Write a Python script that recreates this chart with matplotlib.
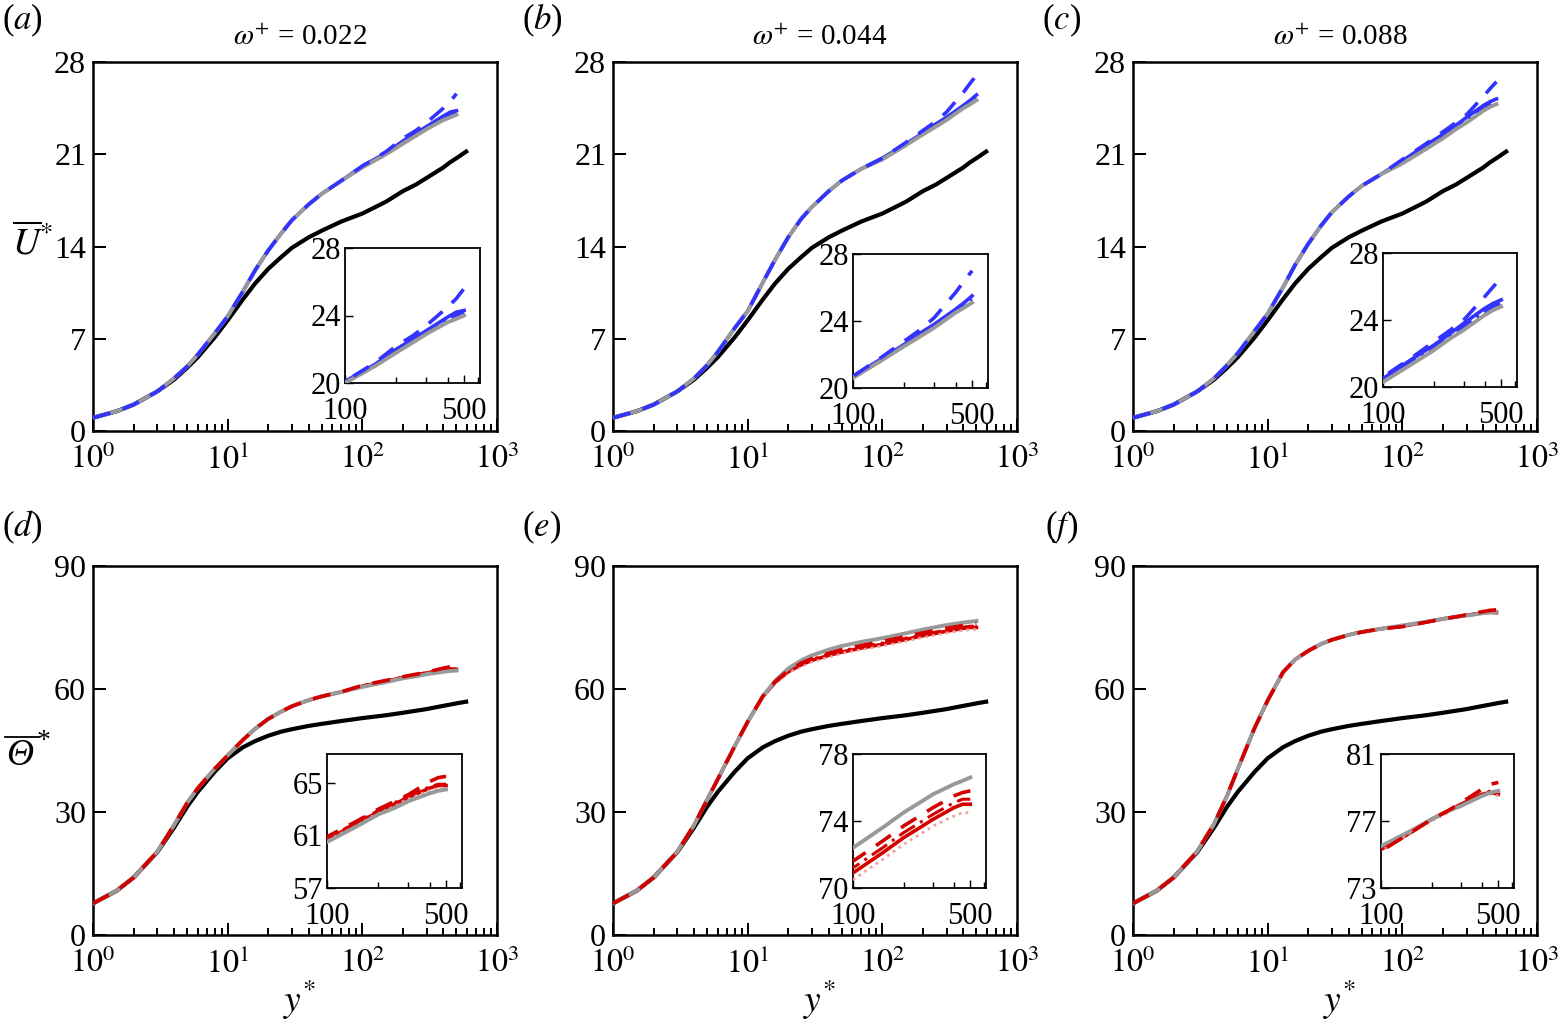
import numpy as np
import matplotlib
matplotlib.use("Agg")
import matplotlib.pyplot as plt
from matplotlib.ticker import NullFormatter
from matplotlib.lines import Line2D

plt.rcParams['font.family'] = ['Liberation Serif', 'DejaVu Serif']
plt.rcParams['mathtext.fontset'] = 'stix'

# --- data ---
y_plus = [1, 1.5, 2, 3, 4, 5, 6, 8, 10, 13, 16, 20, 25, 30, 40, 50, 70,
          100, 150, 200, 250, 300, 400, 450, 500]
y_base = y_plus + [590]

u_base = [1.0, 1.5, 2.0, 3.0, 3.9, 4.8, 5.6, 7.1, 8.4, 10.0, 11.2, 12.3, 13.2, 13.9, 14.7, 15.2, 15.9,
          16.5, 17.4, 18.2, 18.7, 19.2, 20.0, 20.4, 20.7, 21.2]

u_gray_a = [1.0, 1.5, 2.0, 3.0, 4.0, 4.9, 5.8, 7.4, 8.7, 10.6, 12.2, 13.7, 15.0, 16.0, 17.2, 18.0, 19.0,
            20.0, 21.0, 21.8, 22.4, 22.9, 23.6, 23.8, 24.0]
u_solid_a = [1.0, 1.5, 2.0, 3.0, 4.0, 4.9, 5.8, 7.4, 8.7, 10.6, 12.2, 13.7, 15.0, 16.0, 17.2, 18.0, 19.0,
             20.1, 21.1, 22.0, 22.6, 23.1, 23.9, 24.2, 24.3]
u_dash_a = [1.0, 1.5, 2.0, 3.0, 4.0, 4.9, 5.8, 7.4, 8.7, 10.6, 12.2, 13.7, 15.0, 16.0, 17.2, 18.0, 19.0,
            20.1, 21.2, 22.2, 22.8, 23.4, 24.5, 25.0, 25.6]
u_dashdot_a = [1.0, 1.5, 2.0, 3.0, 4.0, 4.9, 5.8, 7.4, 8.7, 10.6, 12.2, 13.7, 15.0, 16.0, 17.2, 18.0, 19.0,
               20.0, 21.1, 21.9, 22.5, 23.0, 23.8, 24.0, 24.2]

u_gray_b = [1.0, 1.5, 2.0, 3.0, 4.0, 5.0, 6.0, 7.8, 9.1, 11.3, 13.0, 14.7, 16.1, 17.0, 18.2, 19.0, 19.9,
            20.6, 21.7, 22.5, 23.1, 23.6, 24.5, 24.8, 25.1]
u_solid_b = [1.0, 1.5, 2.0, 3.0, 4.0, 5.0, 6.0, 7.8, 9.1, 11.3, 13.0, 14.7, 16.1, 17.0, 18.2, 19.0, 19.9,
             20.7, 21.8, 22.6, 23.3, 23.8, 24.7, 25.1, 25.5]
u_dash_b = [1.0, 1.5, 2.0, 3.0, 4.0, 5.0, 6.0, 7.8, 9.1, 11.3, 13.0, 14.7, 16.1, 17.0, 18.2, 19.0, 19.9,
            20.7, 21.9, 22.8, 23.5, 24.2, 25.7, 26.4, 27.0]
u_dashdot_b = [1.0, 1.5, 2.0, 3.0, 4.0, 5.0, 6.0, 7.8, 9.1, 11.3, 13.0, 14.7, 16.1, 17.0, 18.2, 19.0, 19.9,
               20.6, 21.7, 22.6, 23.2, 23.7, 24.6, 25.0, 25.3]

u_gray_c = [1.0, 1.5, 2.0, 3.0, 4.0, 5.0, 5.9, 7.6, 8.9, 10.9, 12.6, 14.2, 15.6, 16.6, 17.8, 18.6, 19.5,
            20.3, 21.4, 22.2, 22.9, 23.4, 24.3, 24.6, 24.8]
u_solid_c = [1.0, 1.5, 2.0, 3.0, 4.0, 5.0, 5.9, 7.6, 8.9, 10.9, 12.6, 14.2, 15.6, 16.6, 17.8, 18.6, 19.5,
             20.5, 21.7, 22.5, 23.2, 23.8, 24.7, 25.0, 25.2]
u_dash_c = [1.0, 1.5, 2.0, 3.0, 4.0, 5.0, 5.9, 7.6, 8.9, 10.9, 12.6, 14.2, 15.6, 16.6, 17.8, 18.6, 19.5,
            20.6, 21.8, 22.7, 23.4, 24.0, 25.4, 26.0, 26.5]
u_dashdot_c = [1.0, 1.5, 2.0, 3.0, 4.0, 5.0, 5.9, 7.6, 8.9, 10.9, 12.6, 14.2, 15.6, 16.6, 17.8, 18.6, 19.5,
               20.4, 21.5, 22.3, 23.0, 23.6, 24.5, 24.8, 25.0]

t_base = [7.7, 10.8, 14.0, 20.2, 26.2, 31.3, 34.9, 39.8, 43.1, 45.8, 47.3, 48.6, 49.6, 50.2, 51.0, 51.5, 52.2,
          52.9, 53.6, 54.2, 54.7, 55.1, 55.9, 56.2, 56.5, 56.9]

t_gray_d = [7.7, 10.8, 14.0, 20.3, 26.8, 32.2, 35.8, 40.5, 43.8, 47.6, 50.3, 52.7, 54.5, 55.8, 57.3, 58.2, 59.3,
            60.5, 61.7, 62.6, 63.1, 63.6, 64.2, 64.4, 64.5]
t_solid_d = [7.7, 10.8, 14.0, 20.3, 26.8, 32.2, 35.8, 40.5, 43.8, 47.6, 50.3, 52.7, 54.5, 55.8, 57.3, 58.2, 59.3,
             60.7, 61.9, 62.8, 63.4, 63.9, 64.6, 64.8, 64.8]
t_dash_d = [7.7, 10.8, 14.0, 20.3, 26.8, 32.2, 35.8, 40.5, 43.8, 47.6, 50.3, 52.7, 54.5, 55.8, 57.3, 58.2, 59.3,
            60.9, 62.1, 63.0, 63.6, 64.1, 65.1, 65.4, 65.5]
t_dashdot_d = [7.7, 10.8, 14.0, 20.3, 26.8, 32.2, 35.8, 40.5, 43.8, 47.6, 50.3, 52.7, 54.5, 55.8, 57.3, 58.2, 59.3,
               60.8, 62.0, 62.9, 63.5, 64.0, 64.7, 64.9, 64.9]
t_dot_d = [7.7, 10.8, 14.0, 20.3, 26.8, 32.2, 35.8, 40.5, 43.8, 47.6, 50.3, 52.7, 54.5, 55.8, 57.3, 58.2, 59.3,
           60.6, 61.8, 62.7, 63.2, 63.8, 64.4, 64.6, 64.6]

t_gray_e = [7.7, 10.8, 14.0, 20.3, 26.8, 33.0, 38.0, 46.0, 52.0, 58.3, 62.0, 65.0, 67.0, 68.2, 69.6, 70.5, 71.5,
            72.4, 73.6, 74.5, 75.1, 75.6, 76.2, 76.4, 76.6]
t_solid_e = [7.7, 10.8, 14.0, 20.3, 26.8, 33.0, 38.0, 46.0, 52.0, 58.2, 61.6, 64.2, 65.9, 67.0, 68.2, 69.0, 70.0,
             70.9, 72.1, 73.0, 73.6, 74.1, 74.8, 75.0, 75.0]
t_dash_e = [7.7, 10.8, 14.0, 20.3, 26.8, 33.0, 38.0, 46.0, 52.0, 58.3, 61.8, 64.5, 66.3, 67.4, 68.7, 69.6, 70.6,
            71.6, 72.8, 73.7, 74.3, 74.8, 75.5, 75.7, 75.8]
t_dashdot_e = [7.7, 10.8, 14.0, 20.3, 26.8, 33.0, 38.0, 46.0, 52.0, 58.2, 61.7, 64.3, 66.1, 67.2, 68.5, 69.3, 70.3,
               71.2, 72.4, 73.3, 73.9, 74.4, 75.1, 75.3, 75.3]
t_dot_e = [7.7, 10.8, 14.0, 20.3, 26.8, 33.0, 38.0, 46.0, 52.0, 58.0, 61.4, 63.9, 65.5, 66.6, 67.8, 68.7, 69.7,
           70.5, 71.7, 72.6, 73.2, 73.7, 74.3, 74.5, 74.5]

t_gray_f = [7.7, 10.8, 14.0, 20.4, 27.1, 34.0, 40.5, 50.5, 57.2, 64.1, 67.2, 69.3, 71.0, 72.0, 73.2, 73.9, 74.7,
            75.5, 76.4, 77.1, 77.6, 77.9, 78.5, 78.7, 78.8]
t_solid_f = [7.7, 10.8, 14.0, 20.4, 27.1, 34.0, 40.5, 50.5, 57.2, 64.1, 67.2, 69.3, 71.0, 72.0, 73.2, 73.9, 74.7,
             75.3, 76.3, 77.1, 77.6, 78.0, 78.6, 78.7, 78.6]
t_dash_f = [7.7, 10.8, 14.0, 20.4, 27.1, 34.0, 40.5, 50.5, 57.2, 64.1, 67.2, 69.3, 71.0, 72.0, 73.2, 73.9, 74.7,
            75.2, 76.3, 77.1, 77.6, 78.1, 78.9, 79.2, 79.3]
t_dashdot_f = [7.7, 10.8, 14.0, 20.4, 27.1, 34.0, 40.5, 50.5, 57.2, 64.1, 67.2, 69.3, 71.0, 72.0, 73.2, 73.9, 74.7,
               75.4, 76.4, 77.1, 77.6, 78.0, 78.6, 78.8, 78.7]
t_dot_f = [7.7, 10.8, 14.0, 20.4, 27.1, 34.0, 40.5, 50.5, 57.2, 64.1, 67.2, 69.3, 71.0, 72.0, 73.2, 73.9, 74.7,
           75.3, 76.3, 77.0, 77.5, 77.9, 78.5, 78.6, 78.5]

omegas = ['0.022', '0.044', '0.088']
panel_letters = ['a', 'b', 'c', 'd', 'e', 'f']

u_ticks = [0, 7, 14, 21, 28]
t_ticks = [0, 30, 60, 90]
u_inset_ticks = [20, 24, 28]
t_inset_ticks = [[57, 61, 65], [70, 74, 78], [73, 77, 81]]
t_inset_lims = [(57, 67.2), (70, 78), (73, 81)]

BLUE = '#3333ff'
LBLUE = '#9a9aff'
RED = '#d40000'
LRED = '#f2a0a0'
GRAY = '#999999'

W, H = 1558, 1024
fig = plt.figure(figsize=(W / 100, H / 100), dpi=100)


def px_rect(x0, y0, x1, y1):
    return [x0 / W, 1 - y1 / H, (x1 - x0) / W, (y1 - y0) / H]


def style_axes(ax, lw=1.6, size=22, major=8, minor=5, xpad=6, ypad=5):
    for s in ax.spines.values():
        s.set_linewidth(lw)
    ax.tick_params(which='both', direction='in', top=False, right=False,
                   labelsize=size, width=lw * 0.8)
    ax.tick_params(axis='x', pad=xpad)
    ax.tick_params(axis='y', pad=ypad)
    ax.tick_params(which='major', length=major)
    ax.tick_params(which='minor', length=minor)


def draw_lines(ax, base, gray, solid, dash, dashdot, dot, col, lcol):
    if base is not None:
        ax.plot(y_base, base, color='black', lw=3.0, zorder=2)
    ax.plot(y_plus, solid, color=col, lw=2.6, zorder=3)
    if dot is not None:
        ax.plot(y_plus, dot, color=lcol, lw=2.0, ls=(0, (1, 1.5)), zorder=4)
    ax.plot(y_plus, dashdot, color=col, lw=2.2, ls=(0, (6, 2, 1, 2)), zorder=5)
    ax.plot(y_plus, gray, color=GRAY, lw=2.8, zorder=6)
    ax.plot(y_plus, dash, color=col, lw=2.6, ls=(0, (5, 3.5)), zorder=7)


main_x = [93, 613, 1133]
rows_y = [(62, 431), (566, 935)]
insets_px = [
    (345, 248, 480, 383), (853, 254, 988, 388), (1383, 253, 1517, 387),
    (327, 754, 462, 888), (853, 754, 986, 888), (1381, 754, 1514, 888),
]

u_sets = [
    (u_gray_a, u_solid_a, u_dash_a, u_dashdot_a),
    (u_gray_b, u_solid_b, u_dash_b, u_dashdot_b),
    (u_gray_c, u_solid_c, u_dash_c, u_dashdot_c),
]
t_sets = [
    (t_gray_d, t_solid_d, t_dash_d, t_dashdot_d, t_dot_d),
    (t_gray_e, t_solid_e, t_dash_e, t_dashdot_e, t_dot_e),
    (t_gray_f, t_solid_f, t_dash_f, t_dashdot_f, t_dot_f),
]

for r in range(2):
    for c in range(3):
        k = r * 3 + c
        y0, y1 = rows_y[r]
        ax = fig.add_axes(px_rect(main_x[c], y0, main_x[c] + 404, y1))
        ins = fig.add_axes(px_rect(*insets_px[k]))
        for a, with_base in ((ax, True), (ins, False)):
            if r == 0:
                g, s, d, dd = u_sets[c]
                draw_lines(a, u_base if with_base else None, g, s, d, dd, None, BLUE, LBLUE)
            else:
                g, s, d, dd, dt = t_sets[c]
                draw_lines(a, t_base if with_base else None, g, s, d, dd, dt, RED, LRED)

        ax.set_xscale('log')
        ax.set_xlim(1, 1000)
        ax.set_xticks([1, 10, 100, 1000])
        ax.set_xticklabels([r'$10^0$', r'$10^1$', r'$10^2$', r'$10^3$'])
        if r == 0:
            ax.set_ylim(0, 28)
            ax.set_yticks(u_ticks)
        else:
            ax.set_ylim(0, 90)
            ax.set_yticks(t_ticks)
        style_axes(ax, lw=1.8, size=23, major=9, minor=5, xpad=10, ypad=5)

        ins.set_xscale('log')
        ins.set_xlim(100, 620)
        ins.set_xticks([100, 500])
        ins.set_xticklabels(['100', '500'])
        ins.set_xticks([200, 300, 400, 600], minor=True)
        ins.xaxis.set_minor_formatter(NullFormatter())
        if r == 0:
            ins.set_ylim(20, 28)
            ins.set_yticks(u_inset_ticks)
        else:
            ins.set_ylim(*t_inset_lims[c])
            ins.set_yticks(t_inset_ticks[c])
        style_axes(ins, lw=1.3, size=22, major=6, minor=4, xpad=10, ypad=3)

        cx = (main_x[c] + 207) / W
        if r == 0:
            fig.text(cx, 1 - 38 / H, r'$\omega^{+}$ = ' + omegas[c], ha='center', va='center', fontsize=21)
        else:
            fig.text(cx, 1 - 1000 / H, r'$y^{*}$', ha='center', va='center', fontsize=27)
        lx = [22, 542, 1062][c]
        ly = [20, 527][r]
        fig.text(lx / W, 1 - ly / H, r'($\it{' + panel_letters[k] + r'}$)', ha='center', va='center',
                 fontsize=25)

fig.text(33 / W, 1 - 243 / H, r'$\overline{U}^{*}$', ha='center', va='center', fontsize=27)

# Theta label built by hand so the capital theta is italic
fig.text(20 / W, 1 - 756 / H, '\u0398', ha='center', va='center', fontsize=27, fontstyle='italic')
fig.text(44 / W, 1 - 742 / H, '*', ha='center', va='center', fontsize=20)
fig.add_artist(Line2D([5 / W, 38 / W], [1 - 737 / H, 1 - 737 / H], color='black', lw=1.3,
                      transform=fig.transFigure))

fig.savefig('out.png', dpi=100)
